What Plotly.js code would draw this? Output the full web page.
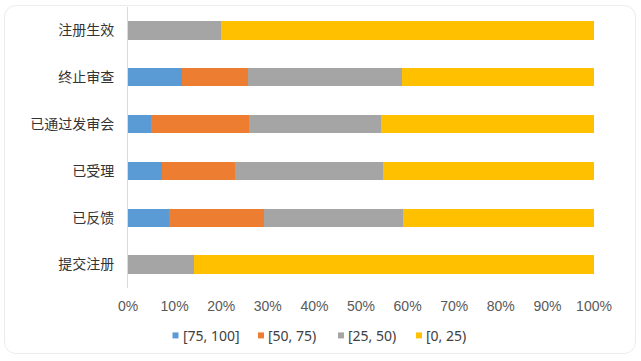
<!DOCTYPE html>
<html>
<head>
<meta charset="utf-8">
<script src="https://cdn.plot.ly/plotly-3.0.1.min.js"></script>
<style>
  html, body { margin: 0; padding: 0; background: #ffffff; }
  #card { position: absolute; left: 4px; top: 5px; width: 630px; height: 347px;
          border: 1px solid #ececec; border-radius: 12px; background: #fff; }
  #chart { position: absolute; left: 0; top: 0; width: 641px; height: 361px; }
</style>
</head>
<body>
<div id="card"></div>
<div id="chart"></div>
<script>
// Categories (top to bottom)
const categories = ['注册生效', '终止审查', '已通过发审会', '已受理', '已反馈', '提交注册'];
// Series names
const seriesNames = ['[75, 100]', '[50, 75)', '[25, 50)', '[0, 25)'];
// Shares (%) per category
const s75_100 = [0, 11.6, 4.9, 7.2, 8.9, 0];
const s50_75  = [0, 14.1, 21.1, 15.7, 20.2, 0];
const s25_50  = [20.0, 33.2, 28.3, 31.9, 30.0, 14.1];
const s0_25   = [80.0, 41.1, 45.7, 45.2, 40.9, 85.9];
// Tick values
const xTicks = [0, 10, 20, 30, 40, 50, 60, 70, 80, 90, 100];

const seriesValues = [s75_100, s50_75, s25_50, s0_25];
const colors = ['#5B9BD5', '#ED7D31', '#A5A5A5', '#FFC000'];

const traces = seriesValues.map((vals, i) => ({
  type: 'bar',
  orientation: 'h',
  name: seriesNames[i],
  y: categories,
  x: vals,
  marker: { color: colors[i], line: { width: 0 } },
  hoverinfo: 'skip',
  showlegend: false
}));

// plot geometry (pixels)
const W = 641, H = 361;
const mL = 128, mR = 47, mT = 7, mB = 72.5;
const pw = W - mL - mR, ph = H - mT - mB;
const px2x = p => (p - mL) / pw;
const py2y = p => (H - mB - p) / ph;

// custom legend
const legendPx = [175.5, 261, 341, 419];
const legendPy = 336;
const shapes = [], annotations = [];
seriesNames.forEach((n, i) => {
  shapes.push({
    type: 'rect', xref: 'paper', yref: 'paper',
    xsizemode: 'pixel', ysizemode: 'pixel',
    xanchor: px2x(legendPx[i]), yanchor: py2y(legendPy),
    x0: -3, x1: 3, y0: -3, y1: 3,
    fillcolor: colors[i], line: { width: 0 }
  });
  annotations.push({
    xref: 'paper', yref: 'paper',
    x: px2x(legendPx[i] + 5), y: py2y(legendPy),
    xanchor: 'left', yanchor: 'middle', showarrow: false,
    text: n,
    font: { family: 'Noto Sans, Liberation Sans, sans-serif', size: 14, color: '#404040' }
  });
});

const layout = {
  width: W, height: H,
  margin: { l: mL, r: mR, t: mT, b: mB, pad: 0 },
  paper_bgcolor: 'rgba(0,0,0,0)',
  plot_bgcolor: 'rgba(0,0,0,0)',
  barmode: 'stack',
  bargap: 0.61,
  showlegend: false,
  xaxis: {
    range: [0, 100],
    tickvals: xTicks,
    ticktext: xTicks.map(v => v + '%'),
    showgrid: false, zeroline: false, showline: false,
    ticks: '',
    ticklabelstandoff: 8,
    tickfont: { family: 'Liberation Sans Narrow, Liberation Sans, Arial, sans-serif', size: 14, color: '#595959' },
    fixedrange: true
  },
  yaxis: {
    type: 'category',
    autorange: 'reversed',
    showgrid: false, zeroline: false,
    showline: true, linecolor: '#d9d9d9', linewidth: 1,
    ticks: '',
    ticklabelstandoff: 10,
    tickfont: { family: 'Noto Sans CJK SC, sans-serif', size: 14, color: '#333333' },
    fixedrange: true
  },
  shapes: shapes,
  annotations: annotations
};

Plotly.newPlot('chart', traces, layout, { displayModeBar: false, staticPlot: true });
</script>
</body>
</html>
